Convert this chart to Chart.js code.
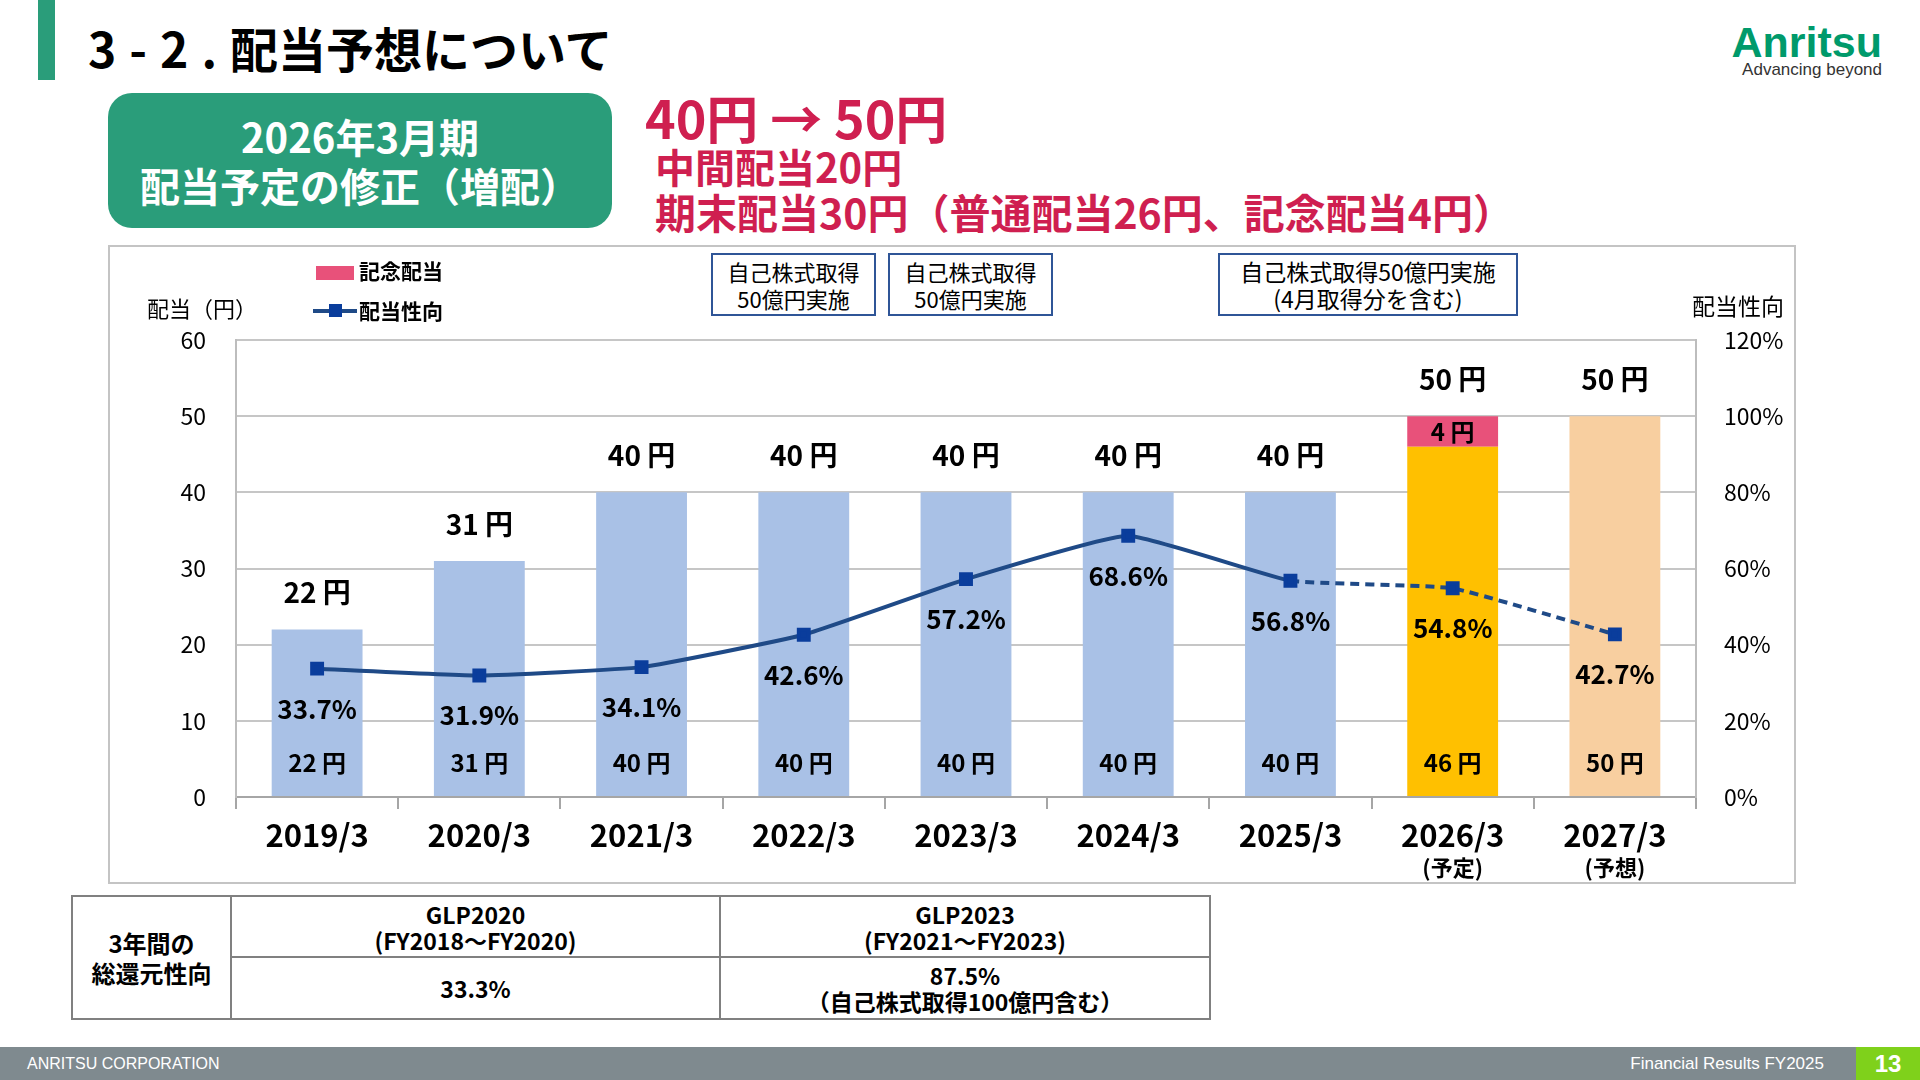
<!DOCTYPE html>
<html lang="ja">
<head>
<meta charset="utf-8">
<script src="https://cdn.jsdelivr.net/npm/chart.js@4.4.1/dist/chart.umd.min.js"></script>
<style>
  html, body { margin:0; padding:0; width:1920px; height:1080px; background:#fff; overflow:hidden; font-family:"Noto Sans CJK JP","Noto Sans",sans-serif; }
  .abs { position:absolute; }
  #titleBar { left:38px; top:0; width:17px; height:80px; background:#2a9d7a; }
  #title { left:88px; top:47px; transform:translateY(-50%); font-size:48px; font-weight:700; color:#000; white-space:nowrap; }
  #title .num { letter-spacing:13px; }
  #greenBox { left:108px; top:93px; width:504px; height:135px; border-radius:24px; background:#2a9d7a; color:#fff; font-weight:700; font-size:40px; text-align:center; }
  #greenBox div { position:absolute; left:0; width:100%; transform:translateY(-50%); white-space:nowrap; }
  .red { color:#cf1f50; font-weight:700; white-space:nowrap; transform:translateY(-50%); }
  #logo { right:38px; top:42px; transform:translateY(-50%); font-family:"Liberation Sans Narrow","Liberation Sans",sans-serif; font-weight:700; font-size:43px; color:#009a6b; }
  #tagline { right:38px; top:70px; transform:translateY(-50%); font-family:"Liberation Sans Narrow","Liberation Sans",sans-serif; font-size:17px; color:#333; }
  #frame { left:108px; top:245px; width:1684px; height:635px; border:2px solid #c4c4c4; box-sizing:content-box; }
  #chartWrap { left:108px; top:245px; width:1686px; height:637px; }
  .axisTitle { font-size:22px; color:#000; white-space:nowrap; transform:translateY(-50%); }
  .legLabel { font-size:21px; font-weight:700; color:#000; white-space:nowrap; transform:translateY(-50%); }
  .note { border:2px solid #2f5597; background:#fff; font-size:22px; line-height:27px; text-align:center; color:#000; display:flex; flex-direction:column; justify-content:center; box-sizing:border-box; white-space:nowrap; }
  #tbl { left:71px; top:895px; border-collapse:collapse; font-weight:700; color:#000; }
  #tbl td { border:2px solid #808080; text-align:center; vertical-align:middle; font-size:23px; line-height:26px; padding:0; }
  #footer { left:0; top:1047px; width:1920px; height:33px; background:#7f8a8f; }
  #footL { left:27px; top:1064px; transform:translateY(-50%); color:#fff; font-family:"Liberation Sans",sans-serif; font-size:16px; }
  #footR { right:96px; top:1064px; transform:translateY(-50%); color:#fff; font-family:"Liberation Sans",sans-serif; font-size:17px; }
  #pageNo { left:1856px; top:1047px; width:64px; height:33px; background:#7fd11b; color:#fff; font-weight:700; font-size:24px; text-align:center; line-height:33px; font-family:"Liberation Sans",sans-serif; }
</style>
</head>
<body>
<div id="titleBar" class="abs"></div>
<div id="title" class="abs"><span class="num">3-2.</span>配当予想について</div>
<div id="greenBox" class="abs">
  <div style="top:43px;">2026年3月期</div>
  <div style="top:92px;">配当予定の修正（増配）</div>
</div>
<div class="abs red" style="left:645px; top:116px; font-size:52px;">40円 → 50円</div>
<div class="abs red" style="left:655px; top:166px; font-size:40px;">中間配当20円</div>
<div class="abs red" style="left:655px; top:211px; font-size:41px;">期末配当30円（普通配当26円、記念配当4円）</div>
<div id="logo" class="abs">Anritsu</div>
<div id="tagline" class="abs">Advancing beyond</div>

<div id="frame" class="abs"></div>
<div id="chartWrap" class="abs"><canvas id="c" width="1686" height="637"></canvas></div>

<div class="abs axisTitle" style="left:147px; top:307px;">配当（円）</div>
<div class="abs axisTitle" style="left:1692px; top:305px; font-size:23px;">配当性向</div>

<div class="abs" style="left:316px; top:266px; width:38px; height:14px; background:#e8517a;"></div>
<div class="abs legLabel" style="left:359px; top:270px;">記念配当</div>
<div class="abs" style="left:313px; top:309px; width:44px; height:4px; background:#1f4a87;"></div>
<div class="abs" style="left:329px; top:304px; width:13px; height:13px; background:#0a3d9c;"></div>
<div class="abs legLabel" style="left:359px; top:310px;">配当性向</div>

<div class="abs note" style="left:711px; top:253px; width:165px; height:63px;"><div>自己株式取得</div><div>50億円実施</div></div>
<div class="abs note" style="left:888px; top:253px; width:165px; height:63px;"><div>自己株式取得</div><div>50億円実施</div></div>
<div class="abs note" style="left:1218px; top:253px; width:300px; height:63px; font-size:23px;"><div>自己株式取得50億円実施</div><div>(4月取得分を含む)</div></div>

<table id="tbl" class="abs">
  <tr style="height:61px;">
    <td rowspan="2" style="width:157px; font-size:24px; line-height:30px;">3年間の<br>総還元性向</td>
    <td style="width:487px;">GLP2020<br>(FY2018～FY2020)</td>
    <td style="width:488px;">GLP2023<br>(FY2021～FY2023)</td>
  </tr>
  <tr style="height:62px;">
    <td>33.3%</td>
    <td>87.5%<br>（自己株式取得100億円含む）</td>
  </tr>
</table>

<div id="footer" class="abs"></div>
<div id="footL" class="abs">ANRITSU CORPORATION</div>
<div id="footR" class="abs">Financial Results FY2025</div>
<div id="pageNo" class="abs">13</div>

<script>
// ---- data ----
const categories = ['2019/3','2020/3','2021/3','2022/3','2023/3','2024/3','2025/3','2026/3','2027/3'];
const categoryNotes = ['','','','','','','','(予定)','(予想)'];
const ordinaryDividend = [22, 31, 40, 40, 40, 40, 40, 46, 50];
const commemorativeDividend = [0, 0, 0, 0, 0, 0, 0, 4, 0];
const payoutRatio = [33.7, 31.9, 34.1, 42.6, 57.2, 68.6, 56.8, 54.8, 42.7];
const dividendTicks = [0, 10, 20, 30, 40, 50, 60];
const ratioTicks = [0, 20, 40, 60, 80, 100, 120];
const forecastFrom = 6; // line segments after this index are dashed

// ---- styles ----
const barColors = ['#a9c1e6','#a9c1e6','#a9c1e6','#a9c1e6','#a9c1e6','#a9c1e6','#a9c1e6','#ffc000','#f8cfa0'];
const FONT = '"Noto Sans CJK JP", "Noto Sans", sans-serif';

const labelPlugin = {
  id: 'valueLabels',
  afterDatasetsDraw(chart) {
    const ctx = chart.ctx;
    const x = chart.scales.x, y = chart.scales.y, y1 = chart.scales.y1;
    ctx.save();
    ctx.fillStyle = '#000';
    ctx.textAlign = 'center';
    ctx.textBaseline = 'middle';
    categories.forEach((c, i) => {
      const cx = x.getPixelForValue(i);
      const total = ordinaryDividend[i] + commemorativeDividend[i];
      ctx.font = '700 28px ' + FONT;
      ctx.fillText(total + ' 円', cx, y.getPixelForValue(total) - 37);
      ctx.font = '700 24px ' + FONT;
      ctx.fillText(ordinaryDividend[i] + ' 円', cx, y.getPixelForValue(0) - 34);
      if (commemorativeDividend[i] > 0) {
        const mid = (ordinaryDividend[i] + total) / 2;
        ctx.fillText(commemorativeDividend[i] + ' 円', cx, y.getPixelForValue(mid));
      }
      ctx.font = '700 26px ' + FONT;
      ctx.fillText(payoutRatio[i].toFixed(1) + '%', cx, y1.getPixelForValue(payoutRatio[i]) + 40);
      if (categoryNotes[i]) {
        ctx.font = '700 22px ' + FONT;
        ctx.fillText(categoryNotes[i], cx, x.top + 71);
      }
    });
    ctx.restore();
  }
};

new Chart(document.getElementById('c'), {
  data: {
    labels: categories,
    datasets: [
      {
        type: 'line',
        label: '配当性向',
        data: payoutRatio,
        yAxisID: 'y1',
        order: 0,
        borderColor: '#1f4a87',
        borderWidth: 4,
        tension: 0.12,
        pointStyle: 'rect',
        pointRadius: 7,
        pointBackgroundColor: '#0a3d9c',
        pointBorderColor: '#0a3d9c',
        segment: {
          borderDash: ctx => ctx.p0DataIndex >= forecastFrom ? [9, 6] : undefined
        }
      },
      {
        type: 'bar',
        label: '普通配当',
        data: ordinaryDividend,
        yAxisID: 'y',
        order: 1,
        stack: 'div',
        backgroundColor: barColors,
        borderWidth: 0,
        barPercentage: 0.56,
        categoryPercentage: 1.0
      },
      {
        type: 'bar',
        label: '記念配当',
        data: commemorativeDividend,
        yAxisID: 'y',
        order: 2,
        stack: 'div',
        backgroundColor: '#e8517a',
        borderWidth: 0,
        barPercentage: 0.56,
        categoryPercentage: 1.0
      }
    ]
  },
  options: {
    responsive: false,
    animation: false,
    devicePixelRatio: 1,
    layout: { padding: { top: 95, left: 0, right: 0, bottom: 0 } },
    plugins: { legend: { display: false }, tooltip: { enabled: false } },
    scales: {
      x: {
        stacked: true,
        grid: { display: true, drawOnChartArea: false, offset: true, tickLength: 12, color: '#a6a6a6', lineWidth: 2 },
        border: { display: true, color: '#a6a6a6', width: 2 },
        ticks: { color: '#000', font: { family: FONT, size: 31, weight: '700' }, padding: 8, maxRotation: 0 },
        afterFit: s => { s.height = 85; }
      },
      y: {
        stacked: true,
        position: 'left',
        min: 0, max: 60,
        afterBuildTicks: s => { s.ticks = dividendTicks.map(v => ({ value: v })); },
        grid: { color: '#c6c6c6', lineWidth: 2, drawTicks: false },
        border: { display: true, color: '#bdbdbd', width: 2 },
        ticks: { color: '#000', font: { family: FONT, size: 23 }, padding: 30 },
        afterFit: s => { s.width = 128; }
      },
      y1: {
        position: 'right',
        min: 0, max: 120,
        afterBuildTicks: s => { s.ticks = ratioTicks.map(v => ({ value: v })); },
        grid: { drawOnChartArea: false, drawTicks: false },
        border: { display: true, color: '#bdbdbd', width: 2 },
        ticks: { color: '#000', font: { family: FONT, size: 23 }, padding: 28, callback: v => v + '%' },
        afterFit: s => { s.width = 98; }
      }
    }
  },
  plugins: [labelPlugin]
});
</script>
</body>
</html>
